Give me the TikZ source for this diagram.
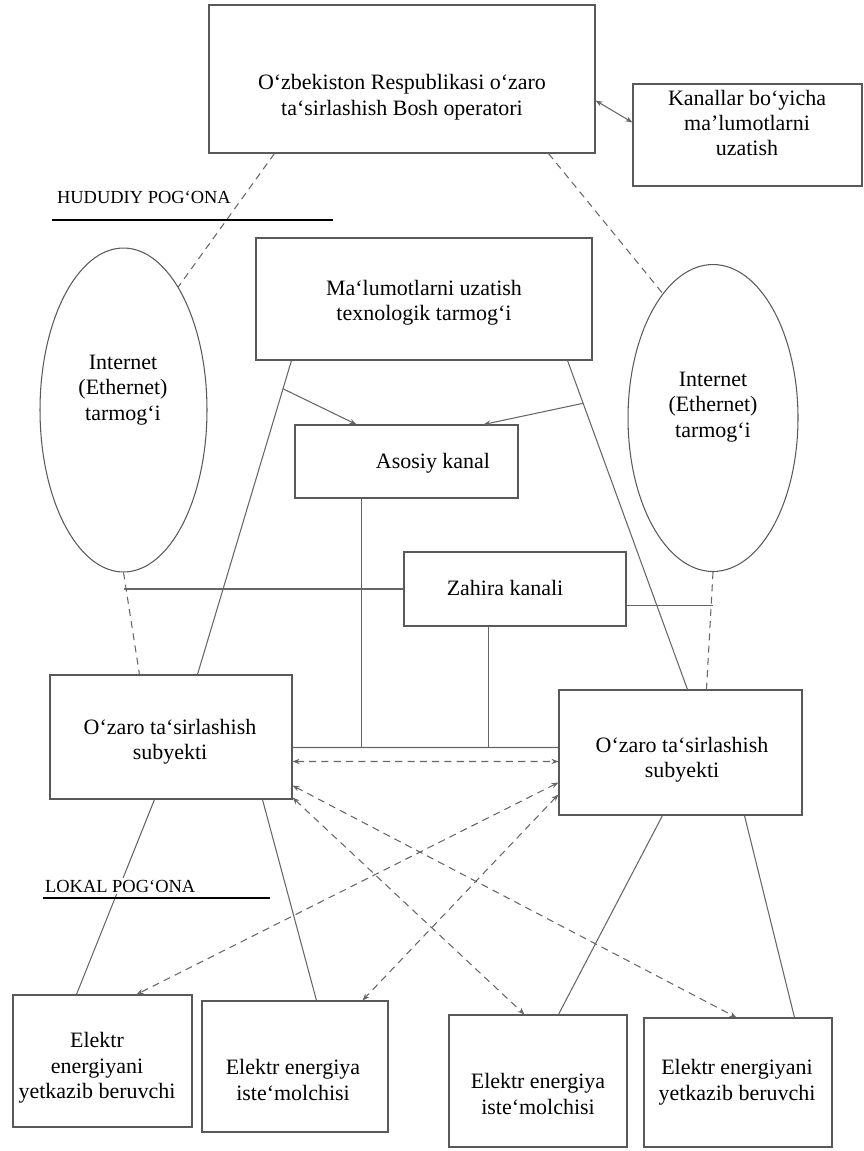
\documentclass[tikz,border=0pt]{standalone}
\usepackage{fontspec}
\setmainfont{Liberation Serif}
\usetikzlibrary{arrows.meta,calc,positioning,shapes.geometric,fit}

\begin{document}
\begin{tikzpicture}[x=0.02cm,y=-0.02cm,>={Stealth[length=4pt,width=3pt]},
  frame/.style={draw=black!65,line width=0.6pt,inner sep=0pt},
  oval/.style={ellipse,draw=black!65,line width=0.6pt,inner sep=0pt},
  txt/.style={align=center,font=\fontsize{12.5}{14.5}\selectfont},
  tier/.style={font=\fontsize{10.5}{12}\selectfont,inner sep=1pt,fill=white},
  wire/.style={draw=black!60,line width=0.6pt},
  dlink/.style={wire,dash pattern=on 4pt off 3pt}]
\useasboundingbox (0,0) rectangle (864,1151);

\node[frame,fit={(209,5) (595,153)}] (boshop) {};
\node[txt] (boshopt) at (402,97) {O‘zbekiston Respublikasi o‘zaro\\ta‘sirlashish Bosh operatori};
\node[frame,fit={(633,84) (862,186)}] (kanal) {};
\node[txt] (kanalt) at (747,123) {Kanallar bo‘yicha\\ma’lumotlarni\\uzatish};

\node[oval,minimum width=3.34cm,minimum height=6.48cm] (netL) at (123.5,410) {};
\node[txt] (netLt) at (123,390) {Internet\\(Ethernet)\\tarmog‘i};
\node[oval,minimum width=3.4cm,minimum height=6.14cm] (netR) at (713,418) {};
\node[txt] (netRt) at (713,407) {Internet\\(Ethernet)\\tarmog‘i};

\node[frame,fit={(256,238) (592,360)}] (tarmoq) {};
\node[txt] (tarmoqt) at (424,303) {Ma‘lumotlarni uzatish\\texnologik tarmog‘i};
\node[frame,fit={(295,425) (518,498)}] (asos) {};
\node[txt] (asost) at (433,463) {Asosiy kanal};
\node[frame,fit={(404,552) (626,626)}] (zahira) {};
\node[txt] (zahirat) at (505,588) {Zahira kanali};

\node[frame,fit={(50,675) (292,799)}] (subL) {};
\node[txt] (subLt) at (170,742) {O‘zaro ta‘sirlashish\\subyekti};
\node[frame,fit={(559,690) (802,815)}] (subR) {};
\node[txt] (subRt) at (682,760) {O‘zaro ta‘sirlashish\\subyekti};

\node[frame,fit={(13,995) (192,1127)}] (b1) {};
\node[txt] (b1t) at (97,1068) {Elektr\\energiyani\\yetkazib beruvchi};
\node[frame,fit={(202,1001) (388,1132)}] (b2) {};
\node[txt] (b2t) at (293,1080) {Elektr energiya\\iste‘molchisi};
\node[frame,fit={(449,1015) (627,1147)}] (b3) {};
\node[txt] (b3t) at (538,1094) {Elektr energiya\\iste‘molchisi};
\node[frame,fit={(644,1018) (832,1147)}] (b4) {};
\node[txt] (b4t) at (737,1082) {Elektr energiyani\\yetkazib beruvchi};

\draw[wire,<->] ($(boshop.south east)+(0,-53)$) -- ($(kanal.north west)+(0,39)$);
\draw[dlink] ($(boshop.south west)+(66,0)$) -- (netL.66);
\draw[dlink] ($(boshop.south east)+(-47,0)$) -- (netR.112);

\draw[dlink] (netL.south) -- ($(subL.north west)+(90,0)$);
\draw[dlink] (netR.south) -- ($(subR.north west)+(148,0)$);
\draw[wire] (zahira.west) -- (zahira.west -| netL.south);
\coordinate (zahR) at ($(zahira.south east)+(0,-21)$);
\draw[wire] (zahR) -- (zahR -| netR.south);

\coordinate (tL) at ($(tarmoq.south west)+(36,0)$);
\coordinate (sLt) at ($(subL.north west)+(148,0)$);
\draw[wire] (tL) -- (sLt);
\draw[wire,->] ($(tL)!0.09!(sLt)$) -- ($(asos.north west)+(62,0)$);
\coordinate (tR) at ($(tarmoq.south east)+(-25,0)$);
\coordinate (sRt) at ($(subR.north west)+(129,0)$);
\draw[wire] (tR) -- (sRt);
\draw[wire,->] ($(tR)!0.13!(sRt)$) -- ($(asos.north east)+(-35,0)$);

\coordinate (busL) at ($(subL.north east)+(0,73)$);
\coordinate (busR) at ($(subR.north west)+(0,58)$);
\draw[wire] (busL) -- (busR);
\coordinate (asosB) at ($(asos.south west)+(67,0)$);
\draw[wire] (asosB) -- (asosB |- busL);
\coordinate (zahB) at ($(zahira.south west)+(85,0)$);
\draw[wire] (zahB) -- (zahB |- busL);

\draw[dlink,<->] ($(subL.north east)+(0,87)$) -- ($(subR.north west)+(0,72)$);
\draw[dlink,<->] ($(subL.south east)+(0,-14)$) -- ($(b4.north west)+(93,0)$);
\draw[dlink,<->] ($(subL.south east)+(0,-2)$) -- ($(b3.north west)+(76,0)$);
\draw[dlink,<->] ($(subR.north west)+(0,93)$) -- ($(b1.north west)+(124,0)$);
\draw[dlink,<->] ($(subR.north west)+(0,105)$) -- ($(b2.north west)+(161,0)$);

\draw[wire] ($(subL.south west)+(105,0)$) -- ($(b1.north west)+(64,0)$);
\draw[wire] ($(subL.south west)+(213,0)$) -- ($(b2.north west)+(115,0)$);
\draw[wire] ($(subR.south west)+(104,0)$) -- ($(b3.north west)+(110,0)$);
\draw[wire] ($(subR.south west)+(186,0)$) -- ($(b4.north west)+(151,0)$);

\node[tier,anchor=west] (hudud) at (55,197) {HUDUDIY POG‘ONA};
\draw[line width=1.6pt] (52,220) -- (333,220);
\node[tier,anchor=west] (lokal) at (43,886) {LOKAL POG‘ONA};
\draw[line width=0.8pt] (43,898) -- (270,898);
\end{tikzpicture}
\end{document}
